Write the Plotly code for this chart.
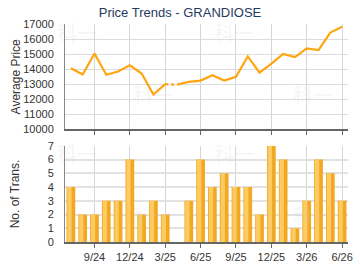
import plotly.graph_objects as go
from plotly.subplots import make_subplots

months = ["7/24", "8/24", "9/24", "10/24", "11/24", "12/24", "1/25", "2/25", "3/25",
          "4/25", "5/25", "6/25", "7/25", "8/25", "9/25", "10/25", "11/25", "12/25",
          "1/26", "2/26", "3/26", "4/26", "5/26", "6/26"]
avg_price = [14050, 13630, 15030, 13620, 13830, 14250, 13700, 12300, 12990,
             12960, 13150, 13230, 13590, 13230, 13480, 14840, 13760, 14360,
             15000, 14800, 15370, 15260, 16430, 16820]
transactions = [4, 2, 2, 3, 3, 6, 2, 3, 2, 0, 3, 6, 4, 5, 4, 4, 2, 7, 6, 1, 3, 6, 5, 3]
tick_labels = ["9/24", "12/24", "3/25", "6/25", "9/25", "12/25", "3/26", "6/26"]
price_ticks = [10000, 11000, 12000, 13000, 14000, 15000, 16000, 17000]
trans_ticks = [0, 1, 2, 3, 4, 5, 6, 7]

gap = 9  # month with no transactions (dotted segment into it)

# plot-area geometry (px) used to place paper-referenced annotations
L, R, T, B = 65, 353, 24, 244
W, H = R - L, B - T


def px_x(px):
    return (px - L) / W


def px_y(py):
    return (B - py) / H


fig = make_subplots(rows=2, cols=1, shared_xaxes=False, vertical_spacing=0.0)

solid_x = months[:gap] + [None] + months[gap:]
solid_y = avg_price[:gap] + [None] + avg_price[gap:]
fig.add_trace(go.Scatter(x=solid_x, y=solid_y, mode="lines",
                         line=dict(color="#FFA50F", width=2.2), connectgaps=False,
                         showlegend=False), row=1, col=1)
fig.add_trace(go.Scatter(x=months[gap - 1:gap + 1], y=avg_price[gap - 1:gap + 1], mode="lines",
                         line=dict(color="#FFA50F", width=2.2, dash="dot"),
                         showlegend=False), row=1, col=1)

fig.add_trace(go.Bar(x=months, y=transactions, width=0.74,
                     marker=dict(color="#F2A823", line=dict(width=0)),
                     showlegend=False), row=2, col=1)
fig.add_trace(go.Bar(x=months, y=transactions, width=0.36, offset=-0.3,
                     marker=dict(color="#FCCB62", line=dict(width=0)),
                     showlegend=False), row=2, col=1)

fig.update_layout(barmode="overlay")

tfont = dict(family="Arial, Liberation Sans", size=11, color="#333333")

axis_common = dict(type="category", categoryorder="array", categoryarray=months,
                   range=[-0.5, 23.5], tickmode="array", tickvals=tick_labels,
                   showgrid=True, gridcolor="#d6d6d6", gridwidth=1,
                   showline=True, linecolor="#666666", linewidth=2,
                   ticks="outside", ticklen=4, tickcolor="#666666",
                   tickfont=tfont)

fig.update_xaxes(**axis_common, showticklabels=False, row=1, col=1)
fig.update_xaxes(**axis_common, ticktext=tick_labels, showticklabels=True, row=2, col=1)

fig.update_yaxes(range=[10000, 17000], tickmode="array", tickvals=price_ticks,
                 ticktext=[str(v) for v in price_ticks], showgrid=True,
                 gridcolor="#dcdcdc", gridwidth=1, showline=True, linecolor="#888888", linewidth=1,
                 zeroline=False, ticks="", ticklabelstandoff=8, tickfont=tfont,
                 row=1, col=1)
fig.update_yaxes(range=[0, 7], tickmode="array", tickvals=trans_ticks,
                 ticktext=[str(v) for v in trans_ticks], showgrid=True,
                 gridcolor="#e2e2e2", gridwidth=2, showline=True, linecolor="#888888", linewidth=1,
                 zeroline=False, ticks="", ticklabelstandoff=8, tickfont=tfont,
                 row=2, col=1)

fig.update_layout(
    width=360, height=270,
    margin=dict(l=L, r=360 - R, t=T, b=270 - B),
    paper_bgcolor="white", plot_bgcolor="white",
    title=dict(text="Price Trends - GRANDIOSE", x=0.5, xanchor="center", y=0.955, yanchor="middle",
               font=dict(family="Arial, Liberation Sans", size=13, color="#1F3A5F")),
    yaxis=dict(domain=[0.518, 1.0]),
    yaxis2=dict(domain=[0.0, 0.441]),
)

tt = dict(family="Arial, Liberation Sans", size=12, color="#333333")
fig.add_annotation(x=px_x(15), y=px_y(77), xref="paper", yref="paper", text="Average Price",
                   textangle=-90, showarrow=False, xanchor="center", yanchor="middle", font=tt)
fig.add_annotation(x=px_x(15), y=px_y(195), xref="paper", yref="paper", text="No. of Trans.",
                   textangle=-90, showarrow=False, xanchor="center", yanchor="middle", font=tt)

# faint watermarks
for (px, py) in [(77, 33), (237, 33), (155, 95), (317, 95), (77, 155), (237, 155), (155, 217), (317, 217)]:
    fig.add_annotation(x=px_x(px), y=px_y(py), xref="paper", yref="paper",
                       text="科一", showarrow=False, xanchor="center", yanchor="middle",
                       font=dict(family="Noto Sans CJK SC", size=20, color="rgba(200,200,200,0.18)"))

fig.write_html("out.html")
